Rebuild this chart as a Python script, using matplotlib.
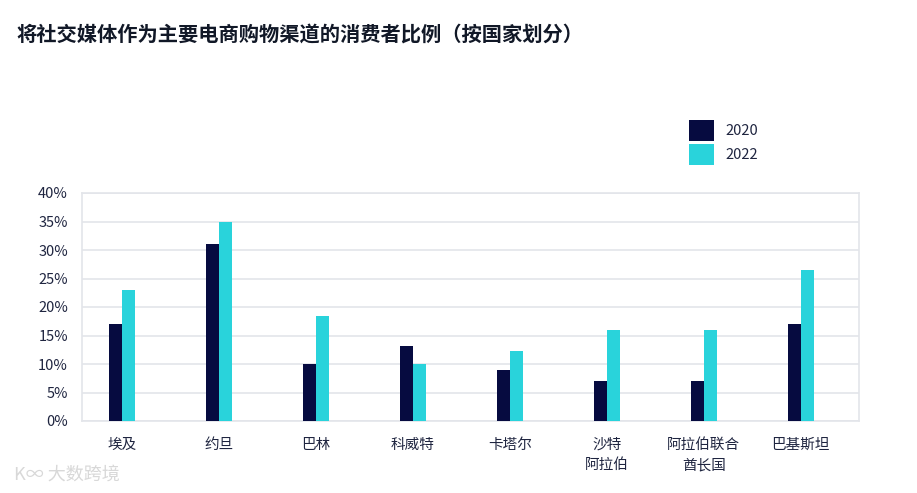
import matplotlib.pyplot as plt
import numpy as np

plt.rcParams['font.family'] = ['Noto Sans CJK SC', 'DejaVu Sans']

countries = ['埃及', '约旦', '巴林', '科威特', '卡塔尔', '沙特\n阿拉伯', '阿拉伯联合\n酋长国', '巴基斯坦']
v2020 = [17, 31, 10, 13.2, 9, 7, 7, 17]
v2022 = [23, 35, 18.4, 10, 12.3, 16, 16, 26.5]
years = ['2020', '2022']

c2020 = '#060B40'
c2022 = '#29D3DB'
textc = '#1F2540'

fig = plt.figure(figsize=(9.17, 4.93), dpi=100)
ax = fig.add_axes([82/917, 1-421/493, 777/917, 228/493])

x = np.arange(len(countries))
w = 0.135
ax.bar(x - w/2, v2020, w, color=c2020, label=years[0], zorder=3)
ax.bar(x + w/2, v2022, w, color=c2022, label=years[1], zorder=3)

ax.set_xlim(-0.41, len(countries) - 0.4)
ax.set_ylim(0, 40)
ax.set_yticks(range(0, 41, 5))
ax.set_yticklabels([f'{t}%' for t in range(0, 41, 5)])
ax.yaxis.grid(True, color='#E3E5EA', linewidth=1.2, zorder=0)
for s in ax.spines.values():
    s.set_color('#E3E5EA')
    s.set_linewidth(1.2)
ax.tick_params(axis='both', length=0, labelsize=10.5, colors=textc)
ax.tick_params(axis='y', pad=10)
ax.tick_params(axis='x', pad=12)
ax.set_xticks(x)
ax.set_xticklabels(countries, linespacing=1.6)

leg = fig.legend(loc='upper left', bbox_to_anchor=(676/917, 1-107/493), frameon=False,
                 fontsize=10.5, handlelength=1.7, handleheight=1.8, handletextpad=0.8,
                 labelspacing=0.25)
for t in leg.get_texts():
    t.set_color(textc)

fig.text(16/917, 1-35/493, '将社交媒体作为主要电商购物渠道的消费者比例（按国家划分）',
         fontsize=14.6, fontweight='bold', color='#111827', va='center')

fig.text(14/917, 1-475/493, 'K∞ 大数跨境', fontsize=13, color='#D8D8D8', va='center')

fig.savefig('out.png', dpi=100)
